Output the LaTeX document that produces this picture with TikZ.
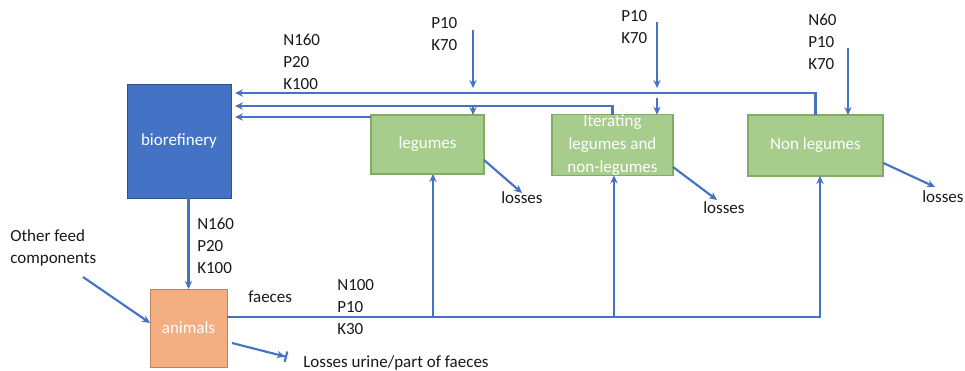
\documentclass[tikz,border=0pt]{standalone}
\usepackage{fontspec}
\setmainfont{Carlito}
\usepackage{tikz}
\usetikzlibrary{arrows,arrows.meta}
\definecolor{flowblue}{RGB}{68,114,196}
\definecolor{refblue}{RGB}{47,82,143}
\definecolor{cropgreen}{RGB}{167,205,140}
\definecolor{cropedge}{RGB}{130,172,100}
\definecolor{feedorange}{RGB}{243,175,130}
\definecolor{feededge}{RGB}{190,130,95}
\tikzstyle{refinery} = [rectangle, minimum width=78pt, minimum height=85.5pt, draw=refblue, fill=flowblue, text=white, inner sep=0pt, outer sep=0pt]
\tikzstyle{crop} = [rectangle, draw=cropedge, line width=0.8pt, fill=cropgreen, text=white, align=center, inner sep=0pt, outer sep=0pt]
\tikzstyle{stock} = [rectangle, minimum width=57.75pt, minimum height=58.5pt, draw=feededge, fill=feedorange, text=white, inner sep=0pt, outer sep=0pt]
\tikzstyle{npk} = [anchor=north west, align=left, inner sep=0pt, text=black!90]
\tikzstyle{note} = [anchor=base west, inner sep=0pt, text=black!90]
\tikzstyle{arrow} = [line width=1.6pt, draw=flowblue, ->, >={Stealth[length=6pt,width=5.5pt]}]
\newcommand{\npkfont}{\fontsize{12.75}{16.5}\selectfont}

\begin{document}
\begin{tikzpicture}[x=0.75pt, y=-0.75pt, font=\npkfont]
\useasboundingbox (0,0) rectangle (965,371);
% boxes
\node (bio) [refinery] at (179,141) {biorefinery};
\node (leg) [crop, minimum width=84.75pt, minimum height=44.25pt] at (427.5,144.5) {legumes};
\node (iter) [crop, minimum width=90.75pt, minimum height=45pt, font=\fontsize{12.75}{17.25}\selectfont] at (612.5,145) {Iterating\\legumes and\\non-legumes};
\node (nonleg) [crop, minimum width=101.25pt, minimum height=45.75pt] at (815.5,145.5) {Non legumes};
\node (ani) [stock] at (188.5,328) {animals};
% texts
\node (biolbl) [npk] at (283,34) {N160\\P20\\K100};
\node (leglbl) [npk] at (431,17) {P10\\K70};
\node (iterlbl) [npk] at (621,10) {P10\\K70};
\node (nonlbl) [npk] at (808,14) {N60\\P10\\K70};
\node (anilbl) [npk] at (197,218) {N160\\P20\\K100};
\node (faeceslbl) [npk] at (337,279) {N100\\P10\\K30};
\node (feedlbl) [npk] at (10,229) {Other feed\\components};
\node (faeces) [note] at (248,302) {faeces};
\node (lossleg) [note] at (501,203) {losses};
\node (lossiter) [note] at (703,213) {losses};
\node (lossnon) [note] at (922,202) {losses};
\node (urinelbl) [note] at (303,367) {Losses urine/part of faeces};
% free ends
\coordinate (inleg) at (473,30);
\coordinate (inlegend) at (473,88);
\coordinate (initer) at (657,22);
\coordinate (initerend) at (657,88);
\coordinate (innon) at (848,48);
\coordinate (outleg) at (522,193);
\coordinate (outiter) at (717,200);
\coordinate (outnon) at (935,187);
\coordinate (feed) at (83,277);
\coordinate (urine) at (287,357);
\coordinate (split) at ([yshift=8.25pt]ani.east);
% back to the biorefinery
\draw[arrow] (nonleg.north) |- ([xshift=3pt,yshift=-6.75pt]bio.north east);
\draw[arrow] (iter.north) |- ([xshift=3pt,yshift=-16.5pt]bio.north east);
\draw[arrow] ([yshift=-1.5pt]leg.north west) -- ([xshift=3pt,yshift=-24.75pt]bio.north east);
% fertiliser
\draw[arrow] (inleg) -- (inlegend);
\draw[arrow] ([yshift=6pt]leg.north -| inleg) -- (leg.north -| inleg);
\draw[arrow] (initer) -- (initerend);
\draw[arrow] ([yshift=12.5pt]iter.north -| initer) -- (iter.north -| initer);
\draw[arrow] (innon) -- (innon |- nonleg.north);
% losses
\draw[arrow] ([yshift=-11.6pt]leg.east) -- (outleg);
\draw[arrow] ([yshift=-16.5pt]iter.east) -- (outiter);
\draw[arrow] ([yshift=-13pt]nonleg.east) -- (outnon);
% feed and faeces
\draw[arrow] (ani.north |- bio.south) -- (ani.north);
\draw[arrow] (feed) -- ([yshift=3.75pt]ani.west);
\draw[line width=1.6pt, draw=flowblue, -{Stealth[length=6pt,width=5.5pt]Bar[width=8pt]}] ([xshift=3.75pt,yshift=-11.25pt]ani.east) -- (urine);
\draw[arrow] (split) -| ([xshift=3.4pt]nonleg.south);
\draw[arrow] ([xshift=4.1pt]leg.south |- split) -- ([xshift=4.1pt]leg.south);
\draw[arrow] ([xshift=1.1pt]iter.south |- split) -- ([xshift=1.1pt]iter.south);
\end{tikzpicture}
\end{document}
